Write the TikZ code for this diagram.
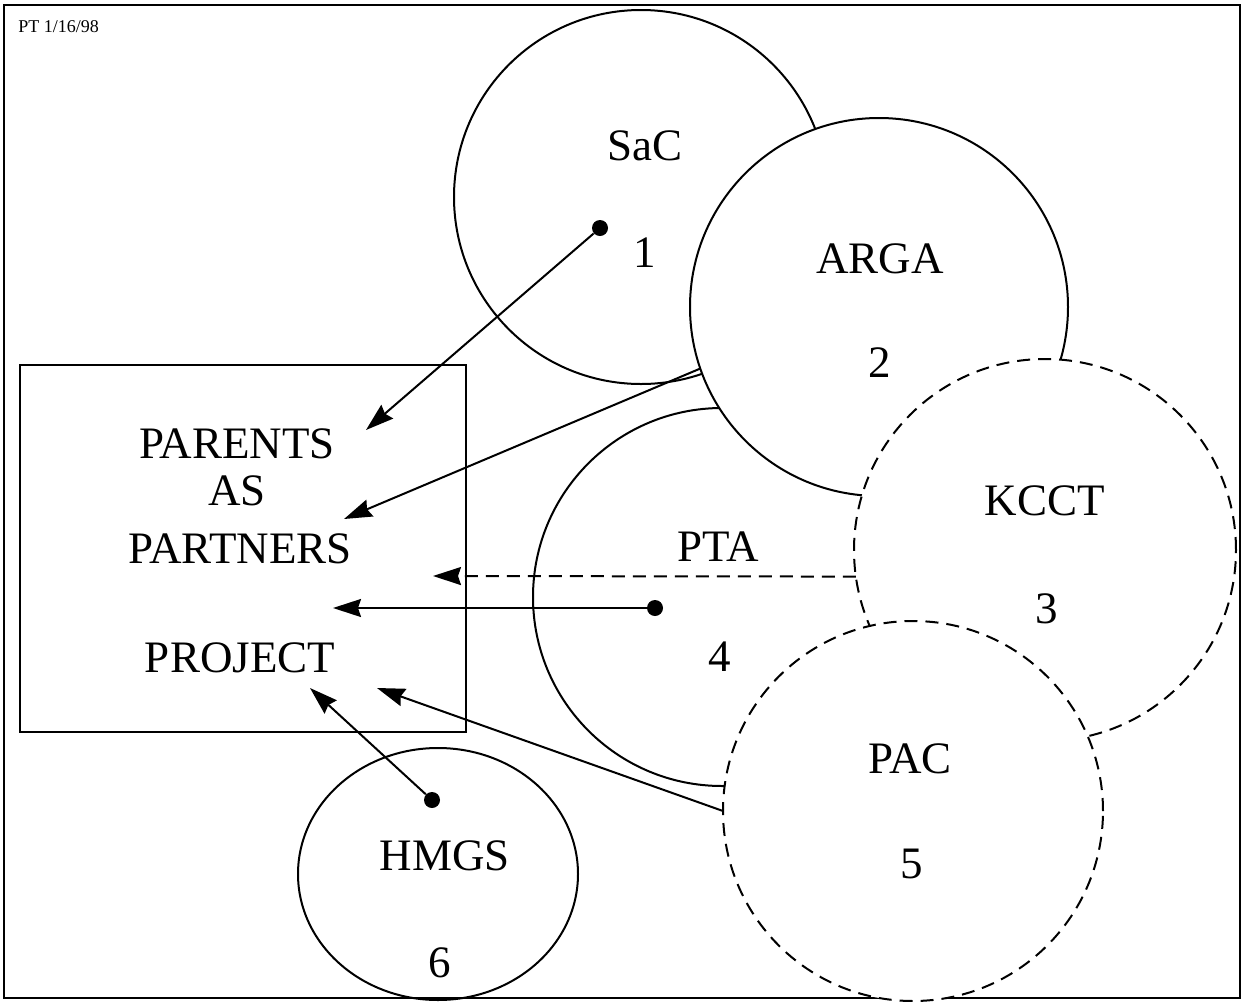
\documentclass[tikz,border=0pt]{standalone}
\usepackage{fontspec}
\setmainfont{Liberation Serif}
\usetikzlibrary{arrows.meta,shapes.geometric}
\begin{document}
\begin{tikzpicture}[x=0.5pt,y=-0.5pt,
  org/.style={circle,draw,fill=white,line width=1pt,inner sep=0pt,outer sep=0pt},
  orgdash/.style={org,dash pattern=on 6.5pt off 4pt},
  lbl/.style={inner sep=0pt,anchor=base,font=\fontsize{22.5}{27}\selectfont},
  link/.style={line width=1pt,-{Stealth[length=14pt,width=9pt,inset=1.5pt]}},
  dot/.style={circle,fill=black,inner sep=0pt,minimum size=8pt}]
  % page and outer frame
  \path[use as bounding box] (0,0) rectangle (1244,1002);
  \draw[line width=1.2pt] (4,5) rectangle (1240,998);
  \node[anchor=west,inner sep=0pt,font=\fontsize{9}{11}\selectfont] (date) at (18,27) {PT 1/16/98};

  % organisations, back to front
  \node[org,minimum size=187pt] (sac) at (641,197) {};
  \node[org,minimum size=189pt] (pta) at (722,597) {};
  \node[org,minimum size=189pt] (arga) at (879,307) {};
  \node[orgdash,minimum size=191pt] (kcct) at (1045,550) {};
  \node[orgdash,minimum size=190pt] (pac) at (913,811) {};
  \node[draw,ellipse,line width=1pt,minimum width=140pt,minimum height=126pt,
        inner sep=0pt,outer sep=0pt] (hmgs) at (438,874) {};

  % project box
  \node[draw,line width=1pt,minimum width=223pt,minimum height=183.5pt,
        inner sep=0pt,outer sep=0pt] (box) at (243,548.5) {};
  \node[lbl] (parents) at (237,458) {PARENTS};
  \node[lbl] (as) at (237,505) {AS};
  \node[lbl] (partners) at (240,563) {PARTNERS};
  \node[lbl] (project) at (240,672) {PROJECT};

  % circle labels
  \node[lbl] (sacname) at (645,160) {SaC};
  \node[lbl] (sacnum) at (645,267) {1};
  \node[lbl] (arganame) at (880,273) {ARGA};
  \node[lbl] (arganum) at (880,377) {2};
  \node[lbl] (kcctname) at (1045,515) {KCCT};
  \node[lbl] (kcctnum) at (1047,623) {3};
  \node[lbl] (ptaname) at (718,561) {PTA};
  \node[lbl] (ptanum) at (720,671) {4};
  \node[lbl] (pacname) at (910,773) {PAC};
  \node[lbl] (pacnum) at (912,878) {5};
  \node[lbl] (hmgsname) at (445,870) {HMGS};
  \node[lbl] (hmgsnum) at (440,977) {6};

  % link origins and arrow targets
  \node[dot] (d1) at (600,228) {};
  \node[dot] (d4) at (655,608) {};
  \node[dot] (d6) at (432,800) {};
  \coordinate (t1) at (366,430);
  \coordinate (t2) at (344,519);
  \coordinate (t3) at (433,576);
  \coordinate (t4) at (333,608);
  \coordinate (t5) at (377,688);
  \coordinate (t6) at (310,688);

  % links into the project
  \draw[link] (d1) -- (t1);
  \draw[link] (arga.199) -- (t2);
  \draw[link,dash pattern=on 6.5pt off 4pt] (kcct.188) -- (t3);
  \draw[link] (d4) -- (t4);
  \draw[link] (pac.west) -- (t5);
  \draw[link] (d6) -- (t6);
\end{tikzpicture}
\end{document}
